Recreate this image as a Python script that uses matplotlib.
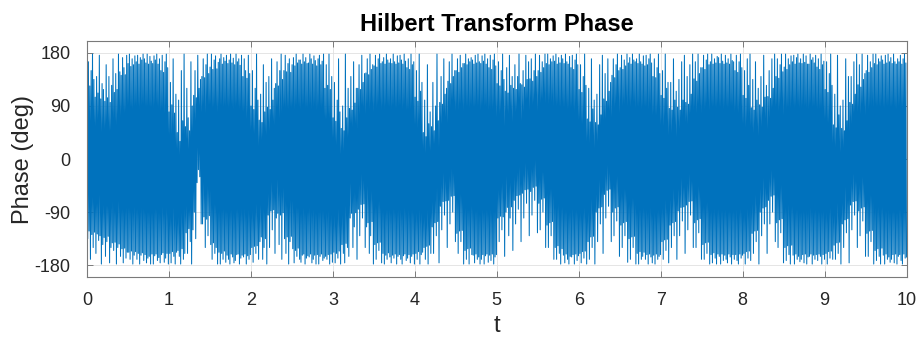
import numpy as np
import matplotlib
matplotlib.use("Agg")
import matplotlib.pyplot as plt

plt.rcParams['font.family'] = ['Liberation Sans', 'DejaVu Sans']
plt.rcParams['axes.unicode_minus'] = False

# phase of the analytic signal in degrees, 120 samples per second
phase_s0 = [128, -135, 165, -122, 124, -170, 150, -128, 178, -150, 135, -124,
            105, -160, 140, -127, 112, -138, 176, -130, 102, -178, 128, -145,
            118, -133, 98, -165, 160, -140, 104, -131, 140, -176, 96, -150,
            125, -142, 170, -155, 113, -141, 145, -178, 118, -150, 178, -144,
            148, -165, 142, -152, 172, -176, 155, -151, 143, -168, 176, -158,
            162, -158, 178, -170, 157, -156, 170, -178, 160, -163, 175, -157,
            165, -170, 176, -160, 161, -178, 172, -163, 168, -159, 178, -172,
            170, -162, 163, -176, 178, -168, 161, -165, 174, -178, 166, -161,
            162, -178, 175, -164, 168, -161, 178, -172, 161, -167, 170, -176,
            150, -162, 176, -159, 147, -175, 165, -168, 178, -160, 155, -178]
phase_s1 = [80, -160, 130, -176, 92, -157, 170, -165, 78, -178, 110, -158,
            45, -155, 100, -165, 30, -178, 150, -152, 65, -170, 178, -160,
            55, -125, 120, -160, 70, -118, 48, -140, 165, -178, 90, -120,
            108, -90, 150, -135, 104, -40, 176, -18, 120, -30, 135, -110,
            140, -110, 170, -98, 138, -150, 160, -102, 178, -130, 145, -96,
            156, -145, 178, -170, 152, -142, 168, -160, 175, -150, 153, -178,
            164, -158, 170, -178, 178, -160, 161, -170, 172, -156, 166, -175,
            176, -163, 162, -170, 168, -178, 178, -161, 163, -166, 171, -176,
            160, -172, 178, -162, 165, -161, 170, -178, 159, -168, 176, -163,
            140, -166, 170, -161, 150, -178, 137, -164, 176, -170, 145, -162]
phase_s2 = [90, -150, 150, -175, 84, -148, 120, -160, 178, -147, 100, -170,
            66, -140, 110, -132, 62, -170, 160, -150, 80, -135, 130, -178,
            88, -95, 140, -150, 84, -88, 170, -120, 100, -86, 120, -160,
            128, -100, 165, -92, 124, -145, 150, -95, 178, -170, 135, -91,
            150, -135, 176, -160, 148, -132, 162, -178, 170, -140, 147, -131,
            160, -152, 172, -176, 158, -155, 178, -165, 163, -151, 168, -170,
            168, -175, 161, -163, 178, -161, 165, -178, 172, -168, 162, -164,
            163, -166, 178, -161, 170, -176, 161, -170, 175, -163, 167, -178,
            158, -162, 170, -178, 176, -165, 160, -161, 166, -172, 178, -168,
            120, -165, 160, -170, 125, -162, 178, -178, 118, -161, 140, -175]
phase_s3 = [70, -158, 130, -176, 64, -160, 100, -168, 170, -156, 80, -178,
            52, -145, 90, -160, 48, -176, 178, -143, 70, -150, 120, -165,
            86, -100, 140, -92, 83, -150, 165, -115, 95, -91, 120, -170,
            120, -85, 160, -130, 118, -77, 176, -100, 130, -76, 145, -150,
            146, -115, 170, -108, 143, -160, 178, -130, 152, -106, 160, -178,
            158, -145, 176, -170, 156, -142, 170, -155, 178, -141, 162, -176,
            165, -160, 172, -178, 161, -163, 178, -170, 168, -159, 163, -166,
            170, -176, 162, -163, 178, -168, 165, -161, 161, -178, 175, -165,
            163, -162, 176, -170, 168, -178, 161, -164, 178, -161, 166, -172,
            155, -168, 170, -162, 152, -176, 178, -165, 160, -161, 165, -178]
phase_s4 = [105, -160, 150, -170, 98, -157, 178, -178, 115, -162, 130, -158,
            45, -150, 100, -170, 38, -148, 160, -178, 60, -146, 80, -160,
            55, -115, 130, -160, 48, -108, 90, -130, 178, -106, 65, -176,
            96, -80, 140, -120, 93, -72, 170, -95, 110, -71, 120, -150,
            132, -70, 165, -110, 128, -63, 178, -90, 140, -62, 150, -140,
            150, -126, 170, -160, 147, -122, 176, -140, 155, -121, 162, -178,
            162, -155, 178, -170, 160, -152, 170, -178, 165, -151, 172, -162,
            168, -163, 161, -176, 176, -161, 163, -170, 178, -166, 165, -178,
            162, -170, 175, -162, 166, -178, 178, -164, 161, -161, 170, -175,
            155, -163, 176, -172, 152, -161, 168, -178, 178, -166, 158, -162]
phase_s5 = [128, -100, 165, -140, 124, -97, 150, -120, 178, -98, 135, -165,
            115, -90, 155, -82, 112, -130, 176, -100, 125, -81, 140, -155,
            120, -70, 160, -110, 118, -62, 140, -85, 178, -61, 128, -140,
            126, -58, 150, -100, 122, -52, 176, -75, 135, -51, 165, -130,
            136, -55, 170, -95, 132, -48, 150, -70, 178, -46, 140, -125,
            150, -75, 176, -120, 147, -68, 165, -90, 155, -66, 178, -150,
            162, -112, 178, -150, 160, -108, 170, -130, 165, -106, 175, -170,
            166, -150, 178, -170, 161, -147, 172, -160, 163, -178, 176, -152,
            170, -163, 162, -176, 178, -161, 165, -170, 161, -178, 174, -165,
            155, -166, 176, -162, 152, -178, 168, -161, 178, -172, 160, -164]
phase_s6 = [118, -160, 160, -176, 113, -157, 140, -168, 178, -156, 125, -178,
            68, -140, 120, -170, 63, -132, 170, -150, 85, -131, 100, -178,
            62, -90, 110, -140, 58, -83, 160, -110, 75, -81, 176, -160,
            102, -60, 145, -100, 98, -53, 170, -80, 115, -51, 130, -140,
            142, -90, 170, -130, 138, -83, 160, -105, 178, -81, 150, -165,
            155, -112, 176, -150, 152, -108, 168, -130, 158, -106, 178, -175,
            163, -135, 172, -170, 161, -132, 178, -150, 168, -131, 165, -178,
            170, -160, 162, -178, 178, -157, 165, -170, 161, -165, 175, -158,
            158, -170, 176, -162, 160, -178, 170, -161, 178, -166, 163, -176,
            140, -163, 170, -178, 138, -161, 155, -170, 178, -165, 145, -162]
phase_s7 = [108, -140, 150, -170, 103, -137, 178, -155, 120, -136, 130, -176,
            86, -112, 130, -150, 83, -108, 170, -130, 100, -106, 115, -170,
            88, -88, 135, -130, 83, -82, 165, -105, 100, -81, 176, -160,
            96, -78, 140, -120, 93, -72, 160, -95, 110, -71, 178, -150,
            136, -108, 165, -150, 132, -103, 178, -125, 145, -101, 155, -170,
            155, -145, 176, -170, 152, -142, 168, -160, 178, -141, 160, -178,
            165, -162, 178, -176, 161, -159, 170, -168, 163, -178, 174, -161,
            172, -165, 162, -178, 178, -161, 166, -172, 161, -163, 176, -170,
            163, -176, 170, -161, 161, -166, 178, -178, 167, -162, 165, -170,
            150, -162, 176, -172, 147, -178, 165, -161, 178, -168, 155, -163]
phase_s8 = [108, -160, 150, -178, 103, -157, 170, -168, 125, -156, 178, -172,
            87, -126, 135, -160, 83, -122, 165, -140, 100, -121, 120, -178,
            92, -90, 140, -130, 88, -83, 176, -110, 105, -81, 125, -160,
            106, -70, 150, -110, 103, -63, 170, -90, 120, -61, 178, -140,
            140, -108, 170, -150, 137, -103, 160, -125, 178, -101, 148, -176,
            156, -150, 178, -172, 152, -147, 170, -162, 160, -178, 175, -146,
            165, -163, 176, -178, 161, -161, 172, -170, 178, -165, 163, -174,
            170, -170, 162, -162, 178, -176, 164, -161, 175, -178, 161, -166,
            161, -165, 178, -161, 168, -178, 172, -163, 163, -170, 176, -162,
            156, -172, 170, -161, 152, -165, 178, -178, 160, -162, 166, -170]
phase_s9 = [118, -160, 165, -178, 113, -157, 145, -168, 178, -156, 125, -170,
            58, -146, 110, -170, 53, -142, 176, -160, 75, -141, 90, -178,
            52, -110, 100, -150, 48, -103, 170, -125, 65, -101, 140, -176,
            96, -78, 140, -120, 93, -72, 165, -95, 110, -71, 178, -150,
            126, -88, 160, -130, 122, -83, 178, -105, 135, -81, 145, -165,
            150, -126, 176, -165, 147, -122, 165, -140, 155, -121, 178, -178,
            162, -155, 178, -172, 160, -152, 170, -165, 165, -178, 175, -151,
            168, -163, 161, -178, 176, -161, 163, -170, 178, -166, 165, -175,
            172, -170, 162, -162, 178, -176, 165, -161, 161, -178, 170, -165,
            165, -162, 176, -172, 161, -178, 170, -161, 178, -168, 163, -166]

phase = np.concatenate([phase_s0, phase_s1, phase_s2, phase_s3, phase_s4,
                        phase_s5, phase_s6, phase_s7, phase_s8, phase_s9])
t = np.linspace(0, 10, len(phase))

fig = plt.figure(figsize=(9.21, 3.37), dpi=100)
ax = fig.add_axes([0.0945, 0.178, 0.8898, 0.700])

ax.plot(t, phase, color='#0072BD', linewidth=0.75)

ax.set_xlim(0, 10)
ax.set_ylim(-200, 200)
ax.set_xticks(range(0, 11))
ax.set_yticks([-180, -90, 0, 90, 180])
ax.grid(True, color='#e0e0e0', linewidth=0.6)
ax.set_axisbelow(True)

ax.tick_params(direction='in', top=True, right=True, length=4, width=0.6,
               color='#6b6b6b', labelcolor='#262626', labelsize=13)
ax.tick_params(axis='x', pad=11)
ax.tick_params(axis='y', pad=12)
for s in ax.spines.values():
    s.set_color('#7a7a7a')
    s.set_linewidth(0.8)

ax.set_xlabel('t', fontsize=17, color='#262626', labelpad=4)
ax.set_ylabel('Phase (deg)', fontsize=17, color='#262626', labelpad=0)
ax.set_title('Hilbert Transform Phase', fontsize=17, fontweight='bold', pad=7)

fig.savefig('out.png', dpi=100)
